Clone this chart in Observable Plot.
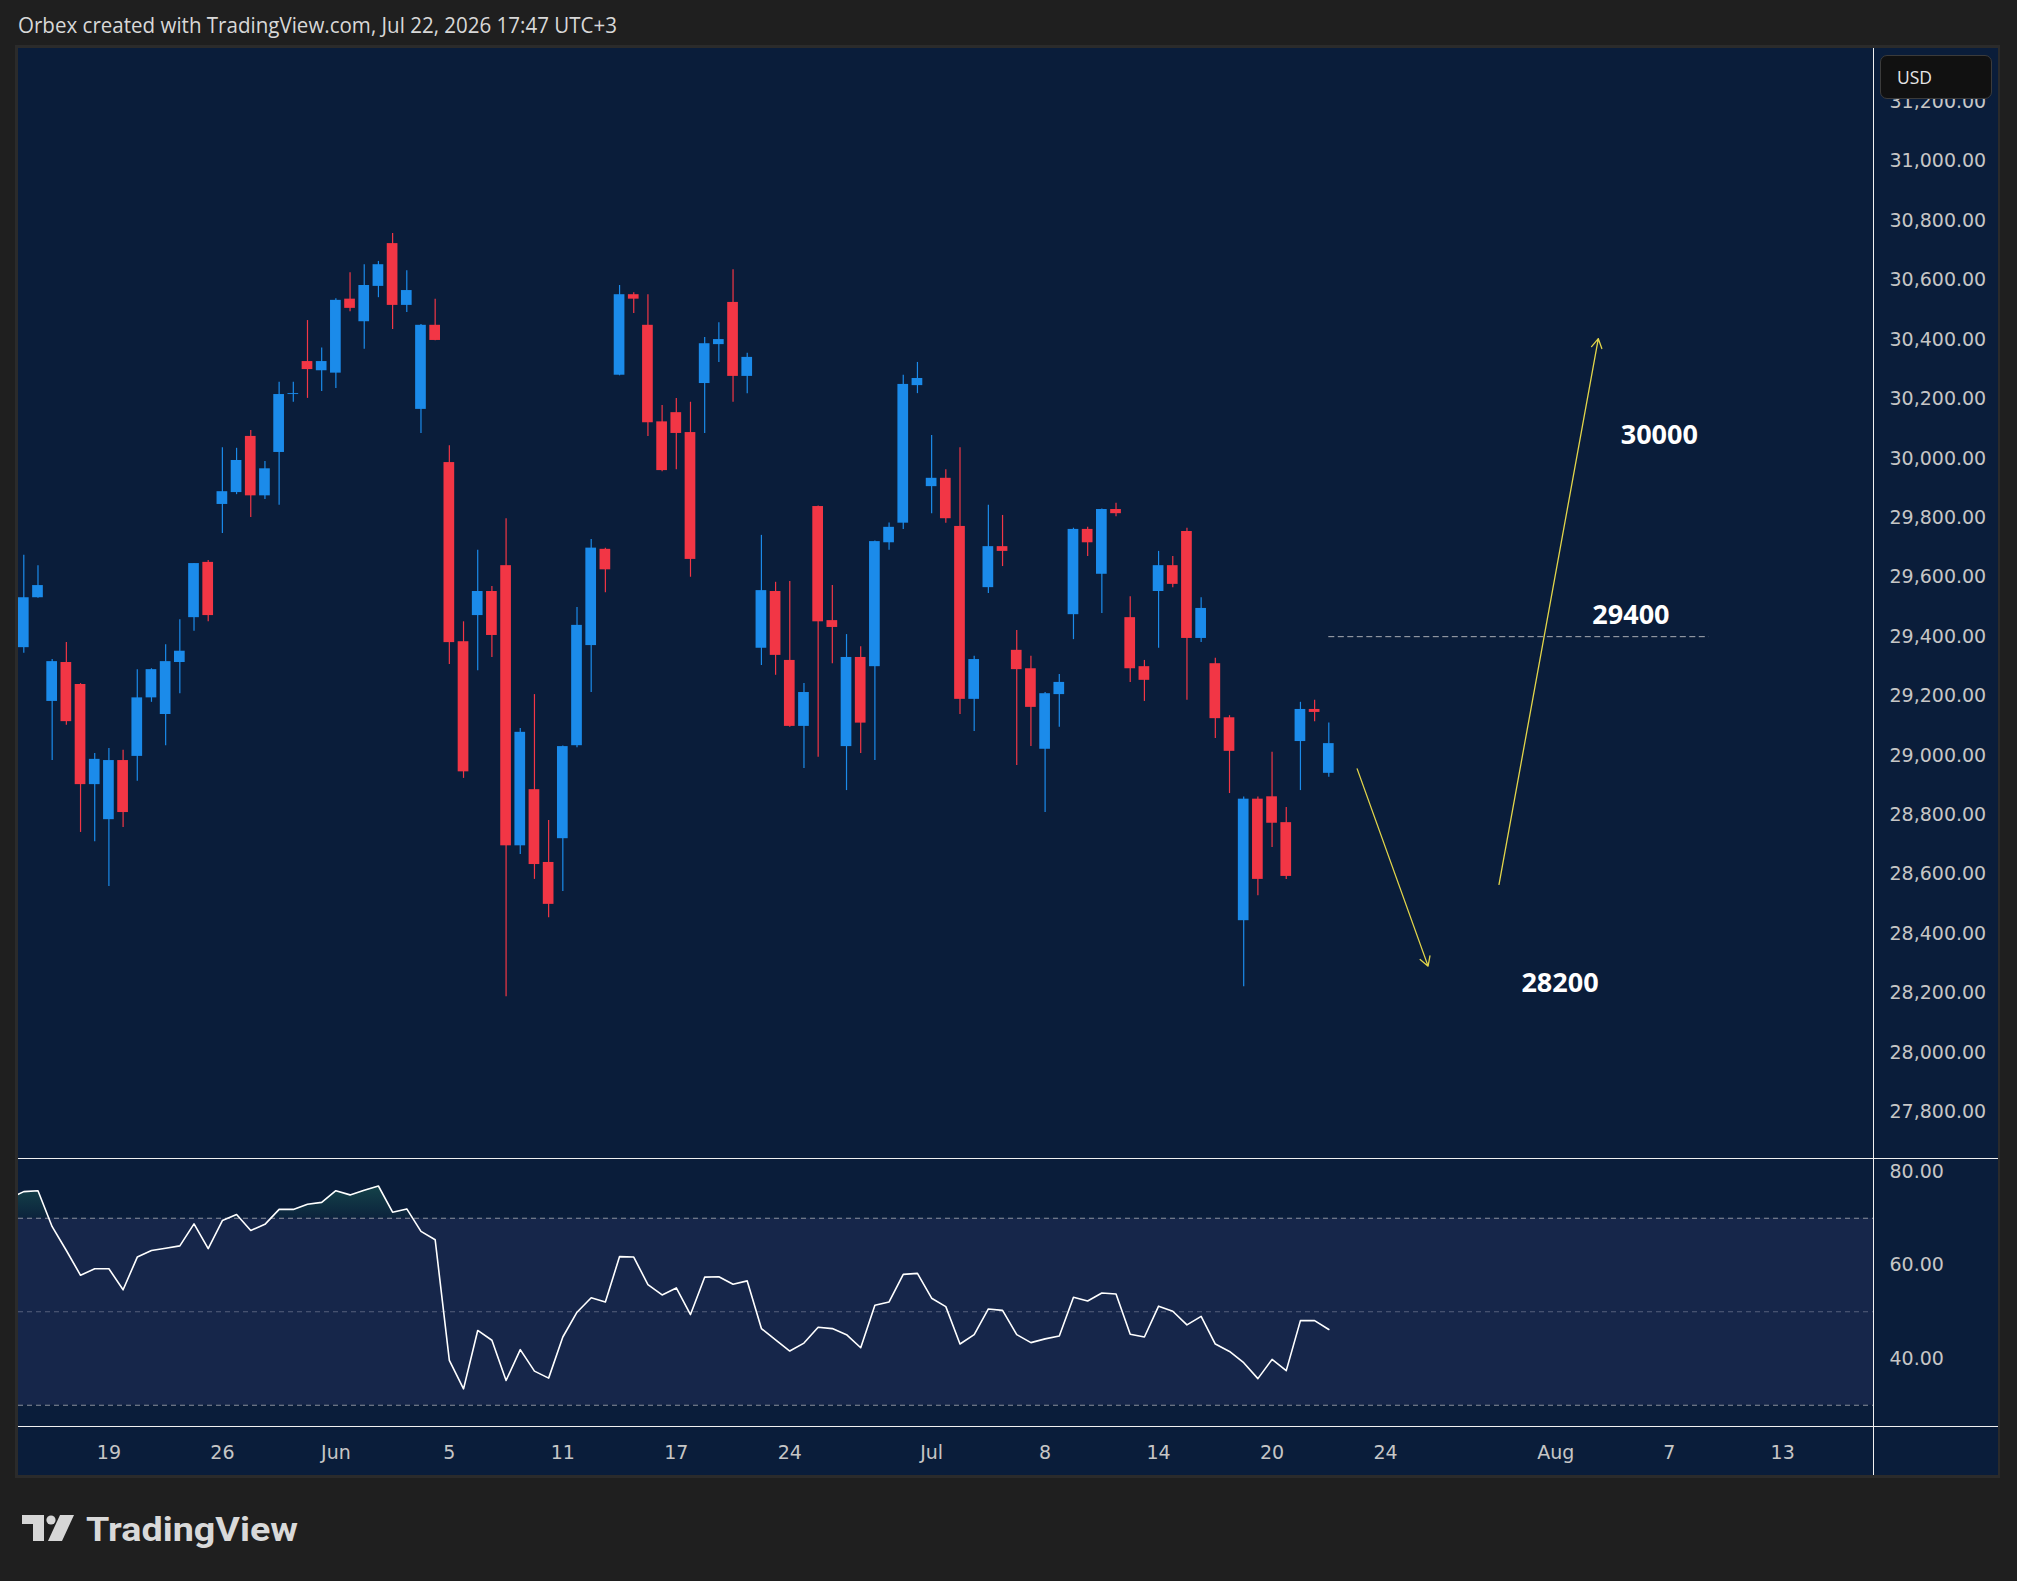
<!DOCTYPE html>
<html>
<head>
<meta charset="utf-8">
<script src="https://cdn.jsdelivr.net/npm/d3@7"></script>
<script src="https://cdn.jsdelivr.net/npm/@observablehq/plot@0.6"></script>
<style>
html,body{margin:0;padding:0;background:#1f1f1f;}
#root{position:relative;width:2017px;height:1581px;overflow:hidden;background:#1f1f1f;}
.abs{position:absolute;}
</style>
</head>
<body>
<div id="root"></div>
<script>
// ---------------- DATA ----------------
const opens = [29363,29531,29182,29313,29239,28902,28784,28983,28997,29194,
29138,29313,29464,29650,29845,29885,30074,29874,30020,30215,
30326,30295,30287,30536,30460,30579,30723,30515,30165,30448,
29986,29383,29471,29552,29639,28696,28885,28640,28720,29033,
29370,29694,30280,30551,30448,30123,30154,30087,30252,30383,
30525,30276,29361,29552,29320,29098,29838,29454,29030,29330,
29299,29716,29782,30245,29905,29933,29771,29189,29565,29703,
29354,29292,29021,29205,29474,29761,29610,29828,29464,29299,
29552,29639,29754,29394,29309,29127,28444,28853,28861,28774,
29047,29155,28940];
const highs = [29674,29639,29323,29380,29242,29007,29024,29018,29289,29292,
29373,29457,29646,29656,30036,30034,30094,29990,30256,30256,
30464,30372,30537,30625,30652,30663,30757,30632,30451,30536,
30043,29450,29691,29569,29797,29091,29205,28781,29032,29498,
29727,29698,30582,30558,30551,30178,30202,30189,30407,30457,
30635,30354,29741,29583,29586,29242,29840,29572,29407,29366,
29722,29783,30280,30323,30077,29962,30036,29334,29842,29808,
29421,29334,29212,29273,29765,29768,29830,29849,29534,29320,
29687,29670,29765,29531,29327,29134,28860,28860,29011,28825,
29179,29186,29109];
const lows = [29344,29529,28983,29102,28741,28710,28559,28758,28913,29179,
29033,29208,29418,29450,29747,29878,29801,29862,29842,30189,
30202,30225,30235,30494,30367,30541,30434,30491,30084,30396,
29306,28923,29285,29330,28188,28667,28583,28454,28542,29026,
29212,29548,30278,30488,30074,29955,29962,29600,30084,30323,
30189,30218,29303,29270,29095,28956,28994,29309,28882,29007,
28983,29691,29761,30218,29814,29782,29138,29081,29545,29636,
28966,29030,28808,29095,29390,29670,29478,29804,29246,29182,
29361,29565,29186,29380,29057,28872,28222,28528,28690,28583,
28882,29114,28927];
const closes = [29531,29572,29316,29114,28902,28987,28983,28808,29194,29289,
29316,29351,29646,29471,29888,29993,29874,29965,30215,30218,
30299,30326,30532,30505,30582,30652,30515,30565,30448,30397,
29380,28945,29552,29404,28696,29078,28633,28499,29030,29438,
29698,29625,30551,30536,30120,29959,30084,29660,30386,30400,
30276,30340,29555,29337,29098,29212,29450,29431,29330,29109,
29720,29768,30249,30269,29933,29797,29189,29323,29703,29687,
29289,29162,29208,29246,29761,29716,29828,29814,29292,29253,
29639,29576,29394,29495,29124,29014,28853,28583,28772,28593,
29155,29145,29040];

// RSI(14): first value belongs to the bar just left of the visible range (index -1)
const rsiFirstIndex = -1;
const rsiValues = [74.2,
75.7,75.9,68.2,63.1,57.8,59.2,59.2,54.7,61.7,63.1,
63.6,64.1,68.8,63.5,69.5,70.8,67.4,68.7,71.9,71.9,
73.0,73.4,75.9,75.0,76.0,76.9,71.3,72.0,67.2,65.4,
39.6,33.5,46.0,43.9,35.3,41.9,37.3,35.8,44.6,49.9,
53.0,52.1,61.8,61.7,55.8,53.6,55.1,49.4,57.4,57.5,
55.9,56.6,46.4,44.0,41.6,43.3,46.7,46.4,45.1,42.3,
51.4,52.1,58.0,58.2,52.9,51.1,43.1,45.1,50.6,50.3,
45.1,43.4,44.2,44.8,53.1,52.3,54.0,53.8,45.2,44.6,
51.2,50.1,47.2,49.0,43.1,41.5,39.1,35.7,39.8,37.4,
48.1,48.1,46.2];

const priceTicks = [27800,28000,28200,28400,28600,28800,29000,29200,29400,29600,29800,30000,30200,30400,30600,30800,31000,31200];
const rsiTicks = [40,60,80];
const rsiLevels = [30,50,70];
const dateTickIndex = [6,14,22,30,38,46,54,64,72,80,88,96,108,116,124];
const dateTickLabels = ["19","26","Jun","5","11","17","24","Jul","8","14","20","24","Aug","7","13"];

// drawings (bar index, price)
const arrowFromX = [94, 104];
const arrowFromY = [28955, 28566];
const arrowToX = [99, 111];
const arrowToY = [28291, 30403];
const levelPrice = [29400];
const levelFromX = [92];
const levelToX = [118.8];
const targetText = ["30000","29400","28200"];
const targetX = [115.3, 113.3, 108.3];
const targetY = [30076, 29471, 28232];

// ---------------- STYLE ----------------
const BLUE = "#1b8bea", RED = "#f23645", NAVY = "#0a1d3a", BAND = "#16264a";
const AXIS_TXT = "#c6c6c6";
const X_DOMAIN = [-0.3736, 130.40];
const BODY_HALF = 0.377;

const candles = opens.map((o, i) => ({i, o, h: highs[i], l: lows[i], c: closes[i], col: closes[i] >= o ? BLUE : RED}));
const rsiData = rsiValues.map((v, k) => ({i: k + rsiFirstIndex, v}));
const arrows = arrowFromX.map((x, k) => ({x1: x, y1: arrowFromY[k], x2: arrowToX[k], y2: arrowToY[k]}));
const levels = levelPrice.map((p, k) => ({p, from: levelFromX[k], to: levelToX[k]}));
const targets = targetText.map((t, k) => ({t, x: targetX[k], y: targetY[k]}));
const dateLabel = new Map(dateTickIndex.map((t, k) => [t, dateTickLabels[k]]));

const root = document.getElementById("root");
function addDiv(css) { const d = document.createElement("div"); d.className = "abs"; d.style.cssText = css; root.appendChild(d); return d; }

// header
root.insertAdjacentHTML("beforeend",
  `<svg class="abs" style="left:0;top:0" width="700" height="46"><text x="18" y="33" font-family="Open Sans" font-size="21" fill="#d8d8d8" textLength="599" lengthAdjust="spacingAndGlyphs">Orbex created with TradingView.com, Jul 22, 2026 17:47 UTC+3</text></svg>`);

// frame
addDiv("left:15px;top:45px;width:1985px;height:1433px;background:#2b2b2b;");
addDiv(`left:18px;top:48px;width:1980px;height:1427px;background:${NAVY};`);

const baseStyle = {background: "transparent", fontFamily: "DejaVu Sans", fontSize: "19px", color: AXIS_TXT, overflow: "visible"};

// ---------------- PRICE PANE ----------------
const priceChart = Plot.plot({
  width: 1980, height: 1111,
  marginTop: 0, marginBottom: 0, marginLeft: 0, marginRight: 125,
  style: baseStyle,
  x: {domain: X_DOMAIN, axis: null},
  y: {domain: [27640.2, 31379.7]},
  marks: [
    Plot.axisY(priceTicks, {anchor: "right", label: null, tickSize: 0, tickPadding: 16, tickFormat: d3.format(",.2f"), fontSize: 19}),
    Plot.ruleX(candles, {x: "i", y1: "l", y2: "h", stroke: "col", strokeWidth: 1.2, clip: true}),
    Plot.rect(candles, {x1: d => d.i - BODY_HALF, x2: d => d.i + BODY_HALF, y1: "o", y2: "c", fill: "col", clip: true}),
    Plot.ruleY(levels, {y: "p", x1: "from", x2: "to", stroke: "#a9acb3", strokeWidth: 1, strokeDasharray: "6,3.5"}),
    Plot.arrow(arrows, {x1: "x1", y1: "y1", x2: "x2", y2: "y2", stroke: "#e2d54a", strokeWidth: 1.3, headLength: 12}),
    Plot.text(targets, {x: "x", y: "y", text: "t", fill: "#ffffff", fontSize: 27, fontWeight: 700, fontFamily: "Open Sans"})
  ]
});
priceChart.classList.add("abs");
priceChart.style.left = "18px"; priceChart.style.top = "48px";
root.appendChild(priceChart);

// ---------------- RSI PANE ----------------
const rsiChart = Plot.plot({
  width: 1980, height: 316,
  marginTop: 0, marginBottom: 48, marginLeft: 0, marginRight: 125,
  style: baseStyle,
  x: {domain: X_DOMAIN, label: null},
  y: {domain: [25.24, 82.57], label: null},
  marks: [
    Plot.rect([{lo: rsiLevels[0], hi: rsiLevels[2]}], {y1: "lo", y2: "hi", fill: BAND}),
    Plot.areaY(rsiData, {x: "i", y1: rsiLevels[2], y2: "v", fill: "url(#obGrad)", clip: true}),
    Plot.ruleY(rsiLevels, {y: d => d, stroke: d => d === 50 ? "#56617c" : "#8b909c", strokeWidth: 1, strokeDasharray: "5,4"}),
    Plot.line(rsiData, {x: "i", y: "v", stroke: "#ffffff", strokeWidth: 1.6, clip: true}),
    Plot.axisY(rsiTicks, {anchor: "right", label: null, tickSize: 0, tickPadding: 16, tickFormat: d3.format(".2f"), fontSize: 19}),
    Plot.axisX(dateTickIndex, {anchor: "bottom", label: null, tickSize: 0, tickPadding: 18, tickFormat: d => dateLabel.get(d), fontSize: 19})
  ]
});
{
  const ys = rsiChart.scale("y"), xs = rsiChart.scale("x");
  const svg = d3.select(rsiChart);
  const defs = svg.insert("defs", ":first-child");
  const g = defs.append("linearGradient").attr("id", "obGrad").attr("gradientUnits", "userSpaceOnUse")
    .attr("x1", 0).attr("x2", 0).attr("y1", ys.apply(78)).attr("y2", ys.apply(70));
  g.append("stop").attr("offset", 0).attr("stop-color", "#1f6b5a").attr("stop-opacity", 0.55);
  g.append("stop").attr("offset", 1).attr("stop-color", "#1f6b5a").attr("stop-opacity", 0.08);
  defs.append("clipPath").attr("id", "obClip").append("rect")
    .attr("x", 0).attr("y", 0).attr("width", xs.range[1]).attr("height", ys.apply(70));
  svg.selectAll('g[aria-label="area"]').attr("clip-path", "url(#obClip)");
}
rsiChart.classList.add("abs");
rsiChart.style.left = "18px"; rsiChart.style.top = "1159px";
root.appendChild(rsiChart);

// pane separators
addDiv("left:18px;top:1158px;width:1980px;height:1px;background:#f0f0f0;");
addDiv("left:18px;top:1426px;width:1980px;height:1px;background:#f0f0f0;");
addDiv("left:1873px;top:48px;width:1px;height:1427px;background:#f0f0f0;");

// currency badge
const usd = addDiv("left:1880px;top:55px;width:110px;height:42px;background:#111111;border:1px solid #3b3b3b;border-radius:7px;box-sizing:content-box;");
usd.innerHTML = `<span style="position:absolute;left:16px;top:0;line-height:42px;font-family:'Open Sans';font-size:17.5px;color:#e6e6e6;">USD</span>`;

// footer logo
root.insertAdjacentHTML("beforeend",
  `<svg class="abs" style="left:0;top:1500px" width="420" height="70">
     <g fill="#d6d6d6">
       <rect x="22" y="15" width="22" height="9"/>
       <rect x="33" y="15" width="11" height="26"/>
       <circle cx="51" cy="20" r="4.6"/>
       <polygon points="60,15 74,15 62,41 48,41"/>
     </g>
     <text x="86" y="41" font-family="Roboto" font-weight="700" font-size="33" fill="#d9d9d9" textLength="212" lengthAdjust="spacingAndGlyphs">TradingView</text>
   </svg>`);
</script>
</body>
</html>
